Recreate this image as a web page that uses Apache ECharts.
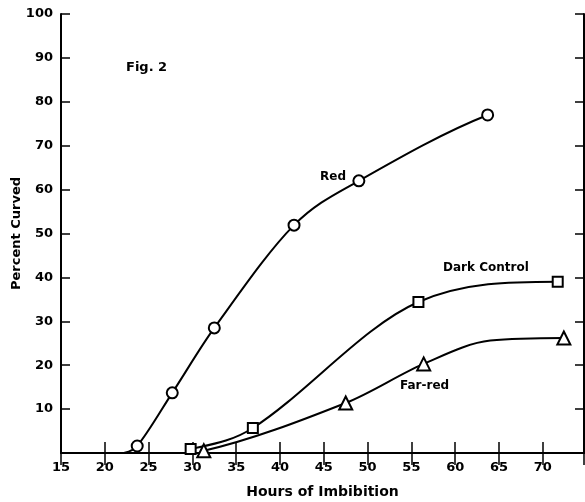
<!DOCTYPE html>
<html>
<head>
<meta charset="utf-8">
<script src="https://cdn.jsdelivr.net/npm/echarts@6/dist/echarts.min.js"></script>
<style>
html,body{margin:0;padding:0;background:#fff;}
#chart{width:585px;height:502px;}
</style>
</head>
<body>
<div id="chart"></div>
<script>
// Data (hours, percent curved).
// Marked points carry a symbol; the unmarked entries are points.
var redHours = [22.1, 23.7, 27.7, 32.5, 41.6, 49.0, 63.7];
var redPct   = [0,    1.6,  13.7, 28.5, 51.9, 62.0, 77.0];
var redMarked = [false, true, true, true, true, true, true];

var darkHours = [29.8, 36.9, 55.8, 71.7];
var darkPct   = [0.9,  5.7,  34.4, 39.0];
var darkMarked = [true, true, true, true];

var farHours = [31.3, 47.5, 56.4, 64.0, 72.4];
var farPct   = [0.5,  11.4, 20.3, 25.6, 26.2];
var farMarked = [true, true, true, false, true];

var xTicks = [15, 20, 25, 30, 35, 40, 45, 50, 55, 60, 65, 70];
var yTicks = [10, 20, 30, 40, 50, 60, 70, 80, 90, 100];

var FONT = 'DejaVu Sans';

function allPairs(xs, ys) {
  return xs.map(function (x, i) { return [x, ys[i]]; });
}
function markedPairs(xs, ys, marked) {
  var out = [];
  xs.forEach(function (x, i) { if (marked[i]) out.push([x, ys[i]]); });
  return out;
}

// Smooth cubic Hermite path (centred-difference tangents, monotone-limited),
// through the points as mapped by the axes
function curveRenderer(xs, ys) {
  return function (params, api) {
    if (params.dataIndex !== 0) return null;
    var p = xs.map(function (x, i) { return api.coord([x, ys[i]]); });
    var n = p.length;
    var h = [], d = [], m = [];
    for (var k = 0; k < n - 1; k++) {
      h[k] = p[k + 1][0] - p[k][0];
      d[k] = (p[k + 1][1] - p[k][1]) / h[k];
    }
    for (k = 1; k < n - 1; k++) {
      if (d[k - 1] * d[k] <= 0) { m[k] = 0; }
      else { m[k] = (p[k + 1][1] - p[k - 1][1]) / (p[k + 1][0] - p[k - 1][0]); }
    }
    function endSlope(h0, h1, d0, d1) {
      var s = ((2 * h0 + h1) * d0 - h0 * d1) / (h0 + h1);
      if (s * d0 <= 0) s = 0;
      else if (d0 * d1 <= 0 && Math.abs(s) > Math.abs(3 * d0)) s = 3 * d0;
      return s;
    }
    if (n > 2) {
      m[0] = endSlope(h[0], h[1], d[0], d[1]);
      m[n - 1] = endSlope(h[n - 2], h[n - 3], d[n - 2], d[n - 3]);
    } else { m[0] = m[1] = d[0]; }
    // Fritsch-Carlson limiter
    for (k = 0; k < n - 1; k++) {
      if (d[k] === 0) { m[k] = m[k + 1] = 0; continue; }
      var a = m[k] / d[k], b = m[k + 1] / d[k], s2 = a * a + b * b;
      if (s2 > 9) { var tau = 3 / Math.sqrt(s2); m[k] = tau * a * d[k]; m[k + 1] = tau * b * d[k]; }
    }
    var path = 'M' + p[0][0] + ',' + p[0][1];
    for (k = 0; k < n - 1; k++) {
      var t = h[k] / 3;
      path += 'C' + (p[k][0] + t) + ',' + (p[k][1] + m[k] * t) + ' ' +
              (p[k + 1][0] - t) + ',' + (p[k + 1][1] - m[k + 1] * t) + ' ' +
              p[k + 1][0] + ',' + p[k + 1][1];
    }
    return {
      type: 'path',
      shape: { pathData: path },
      style: { fill: null, stroke: '#000', lineWidth: 2 },
      silent: true
    };
  };
}

var chart = echarts.init(document.getElementById('chart'), null, { renderer: 'canvas' });

var axisLine = { show: true, lineStyle: { color: '#000', width: 2 } };
var markerStyle = { color: '#fff', borderColor: '#000', borderWidth: 2, opacity: 1 };

function curveSeries(name, xs, ys) {
  return {
    name: name + ' curve', type: 'custom', coordinateSystem: 'cartesian2d',
    xAxisIndex: 0, yAxisIndex: 0,
    data: allPairs(xs, ys),
    renderItem: curveRenderer(xs, ys),
    clip: false, z: 2
  };
}
function markerSeries(name, xs, ys, marked, symbol, size) {
  return {
    name: name, type: 'scatter', xAxisIndex: 0, yAxisIndex: 0,
    data: markedPairs(xs, ys, marked),
    symbol: symbol, symbolSize: size,
    itemStyle: markerStyle, z: 3
  };
}

var option = {
  backgroundColor: '#fff',
  animation: false,
  grid: { left: 61, right: 1, top: 14, bottom: 49, containLabel: false, outerBoundsMode: 'none' },
  xAxis: [
    {
      type: 'value', position: 'bottom', min: 15, max: 74.7, interval: 5,
      axisLine: axisLine,
      axisTick: { show: true, inside: true, length: 11, lineStyle: { color: '#000', width: 1.5 } },
      axisLabel: {
        color: '#000', fontFamily: FONT, fontWeight: 'bold', fontSize: 13, margin: 8,
        showMaxLabel: false,
        formatter: function (v) { return xTicks.indexOf(v) >= 0 ? String(v) : ''; }
      },
      splitLine: { show: false },
      name: 'Hours of Imbibition', nameLocation: 'middle', nameGap: 32, nameMoveOverlap: false,
      nameTextStyle: { color: '#000', fontFamily: FONT, fontWeight: 'bold', fontSize: 14 }
    },
    {
      type: 'value', position: 'top', min: 15, max: 74.7, interval: 5,
      axisLine: axisLine,
      axisTick: { show: true, inside: true, length: 12, lineStyle: { color: '#000', width: 1.5 } },
      axisLabel: { show: false },
      splitLine: { show: false }
    }
  ],
  yAxis: [
    {
      type: 'value', position: 'left', min: 0, max: 100, interval: 10,
      axisLine: axisLine,
      axisTick: { show: true, inside: true, length: 9, lineStyle: { color: '#000', width: 1.5 } },
      axisLabel: {
        color: '#000', fontFamily: FONT, fontWeight: 'bold', fontSize: 13, margin: 8,
        showMinLabel: false,
        formatter: function (v) { return yTicks.indexOf(v) >= 0 ? String(v) : ''; }
      },
      splitLine: { show: false },
      name: 'Percent Curved', nameLocation: 'middle', nameGap: 38, nameMoveOverlap: false,
      nameTextStyle: { color: '#000', fontFamily: FONT, fontWeight: 'bold', fontSize: 13 }
    },
    {
      type: 'value', position: 'right', min: 0, max: 100, interval: 10,
      axisLine: axisLine,
      axisTick: { show: true, inside: true, length: 9, lineStyle: { color: '#000', width: 1.5 } },
      axisLabel: { show: false },
      splitLine: { show: false }
    }
  ],
  series: [
    curveSeries('Red', redHours, redPct),
    curveSeries('Dark Control', darkHours, darkPct),
    curveSeries('Far-red', farHours, farPct),
    markerSeries('Red', redHours, redPct, redMarked, 'circle', 11),
    markerSeries('Dark Control', darkHours, darkPct, darkMarked, 'rect', 10),
    markerSeries('Far-red', farHours, farPct, farMarked, 'triangle', 13)
  ],
  graphic: [
    { type: 'text', left: 126, top: 61, style: { text: 'Fig. 2', font: 'bold 13px "DejaVu Sans"', fill: '#000' } },
    { type: 'text', left: 320, top: 171, style: { text: 'Red', font: 'bold 12px "DejaVu Sans"', fill: '#000' } },
    { type: 'text', left: 443, top: 262, style: { text: 'Dark Control', font: 'bold 12px "DejaVu Sans"', fill: '#000' } },
    { type: 'text', left: 400, top: 380, style: { text: 'Far-red', font: 'bold 12px "DejaVu Sans"', fill: '#000' } }
  ]
};

chart.setOption(option);
</script>
</body>
</html>
